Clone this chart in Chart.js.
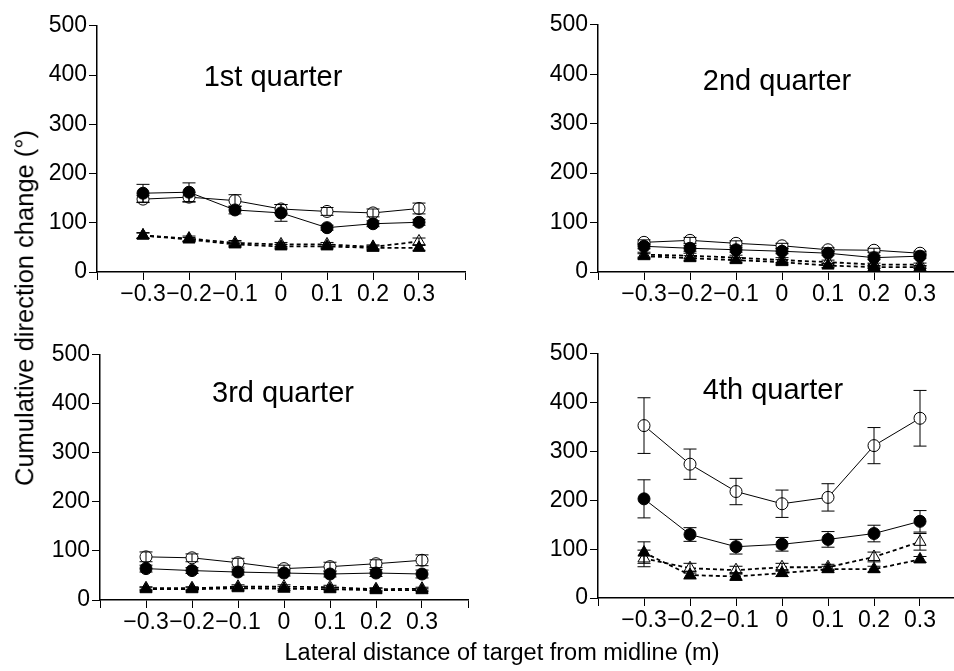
<!DOCTYPE html>
<html>
<head>
<meta charset="utf-8">
<script src="https://cdn.jsdelivr.net/npm/chart.js@4.4.1/dist/chart.umd.min.js"></script>
<style>
  body { margin: 0; width: 954px; height: 671px; background: #fff; overflow: hidden; position: relative; font-family: "Liberation Sans", Arial, sans-serif; }
  canvas { position: absolute; }
  .lbl { position: absolute; color: #000; white-space: nowrap; transform: translate(-50%, -50%); line-height: 1; }
  .title { font-size: 29px; }
  .axis { font-size: 23.5px; }
</style>
</head>
<body>
<canvas id="q1" width="440" height="302" style="left:37px;top:10px"></canvas>
<canvas id="q2" width="440" height="303" style="left:538px;top:9px"></canvas>
<canvas id="q3" width="440" height="301" style="left:40px;top:339px"></canvas>
<canvas id="q4" width="440" height="300" style="left:538px;top:338px"></canvas>

<div class="lbl title" style="left:273px;top:76px">1st quarter</div>
<div class="lbl title" style="left:777px;top:80px">2nd quarter</div>
<div class="lbl title" style="left:283px;top:392px">3rd quarter</div>
<div class="lbl title" style="left:773px;top:389px">4th quarter</div>
<div class="lbl axis" style="left:25px;top:308px;font-size:25.5px;transform:translate(-50%,-50%) rotate(-90deg)">Cumulative direction change (°)</div>
<div class="lbl axis" style="left:502px;top:653px">Lateral distance of target from midline (m)</div>

<script>
// ---------- Data ----------
const xVals = [-0.3, -0.2, -0.1, 0, 0.1, 0.2, 0.3];
const xTicks = [-0.4, -0.3, -0.2, -0.1, 0, 0.1, 0.2, 0.3, 0.4];
const yTicks = [0, 100, 200, 300, 400, 500];

// 1st quarter
const q1OpenCircle = [148, 152, 145, 128, 123, 120, 129];
const q1OpenCircleErr = [7, 10, 12, 9, 8, 8, 11];
const q1FilledCircle = [160, 162, 126, 120, 90, 98, 101];
const q1FilledCircleErr = [18, 19, 8, 17, 5, 6, 6];
const q1OpenTri = [74, 68, 59, 56, 56, 51, 62];
const q1OpenTriErr = [6, 5, 5, 4, 4, 4, 7];
const q1FilledTri = [74, 66, 56, 52, 52, 49, 49];
const q1FilledTriErr = [5, 4, 5, 4, 4, 4, 5];

// 2nd quarter
const q2OpenCircle = [60, 64, 58, 53, 45, 44, 38];
const q2OpenCircleErr = [5, 6, 5, 5, 4, 4, 4];
const q2FilledCircle = [52, 48, 45, 42, 38, 29, 32];
const q2FilledCircleErr = [5, 6, 5, 5, 4, 4, 4];
const q2OpenTri = [35, 33, 29, 24, 20, 15, 15];
const q2OpenTriErr = [5, 5, 5, 5, 4, 3, 3];
const q2FilledTri = [32, 28, 24, 20, 13, 10, 10];
const q2FilledTriErr = [5, 5, 5, 5, 4, 3, 3];

// 3rd quarter
const q3OpenCircle = [88, 86, 76, 64, 68, 74, 81];
const q3OpenCircleErr = [10, 8, 9, 7, 9, 8, 11];
const q3FilledCircle = [64, 60, 57, 55, 53, 55, 53];
const q3FilledCircleErr = [7, 6, 6, 6, 6, 7, 8];
const q3OpenTri = [24, 24, 27, 27, 26, 22, 23];
const q3OpenTriErr = [3, 3, 4, 4, 4, 3, 3];
const q3FilledTri = [22, 22, 24, 23, 22, 20, 20];
const q3FilledTriErr = [3, 3, 4, 4, 4, 3, 3];

// 4th quarter
const q4OpenCircle = [353, 274, 218, 193, 206, 312, 368];
const q4OpenCircleErr = [57, 31, 27, 28, 28, 37, 57];
const q4FilledCircle = [203, 130, 105, 110, 120, 132, 157];
const q4FilledCircleErr = [39, 14, 15, 14, 16, 17, 22];
const q4OpenTri = [81, 61, 57, 63, 63, 84, 115];
const q4OpenTriErr = [17, 10, 8, 8, 6, 10, 17];
const q4FilledTri = [93, 47, 44, 51, 59, 59, 79];
const q4FilledTriErr = [22, 8, 8, 7, 6, 6, 6];

// ---------- Error bar plugin ----------
const errorBars = {
  id: "errorBars",
  afterDatasetsDraw(chart) {
    const { ctx, scales } = chart;
    ctx.save();
    ctx.strokeStyle = "#000";
    ctx.lineWidth = 1;
    chart.data.datasets.forEach((ds) => {
      if (!ds.err) return;
      ds.data.forEach((p, i) => {
        const x = scales.x.getPixelForValue(p.x);
        const yTop = scales.y.getPixelForValue(p.y + ds.err[i]);
        const yBot = scales.y.getPixelForValue(p.y - ds.err[i]);
        ctx.beginPath();
        ctx.moveTo(x, yTop); ctx.lineTo(x, yBot);
        ctx.moveTo(x - 6.5, yTop); ctx.lineTo(x + 6.5, yTop);
        ctx.moveTo(x - 6.5, yBot); ctx.lineTo(x + 6.5, yBot);
        ctx.stroke();
      });
    });
    ctx.restore();
  },
};

const tickFont = { family: "'Liberation Sans', Arial, sans-serif", size: 23 };

function fmt(v) {
  if (Math.abs(v) > 0.35) return "";
  if (v === 0) return "0";
  return (v < 0 ? "\u2212" : "") + Math.abs(v).toFixed(1);
}

function pts(vals) {
  return xVals.map((x, i) => ({ x, y: vals[i] }));
}

function makeChart(id, oc, ocErr, fc, fcErr, ot, otErr, ft, ftErr) {
  const line = { borderColor: "#000", pointBorderColor: "#000", pointBorderWidth: 1 };
  new Chart(document.getElementById(id), {
    type: "line",
    data: {
      datasets: [
        { ...line, data: pts(fc), err: fcErr, borderWidth: 1, pointStyle: "circle", pointRadius: 6, pointBackgroundColor: "#000" },
        { ...line, data: pts(oc), err: ocErr, borderWidth: 1, pointStyle: "circle", pointRadius: 6, pointBackgroundColor: "#fff" },
        { ...line, data: pts(ft), err: ftErr, borderWidth: 1.8, borderDash: [4, 3], pointStyle: "triangle", pointRadius: 7, pointBackgroundColor: "#000" },
        { ...line, data: pts(ot), err: otErr, borderWidth: 1.8, borderDash: [4, 3], pointStyle: "triangle", pointRadius: 7, pointBackgroundColor: "#fff" },
      ],
    },
    options: {
      responsive: false,
      animation: false,
      devicePixelRatio: 1,
      layout: { padding: { top: 14, right: 12, bottom: 0, left: 0 } },
      plugins: { legend: { display: false }, tooltip: { enabled: false } },
      scales: {
        x: {
          type: "linear",
          min: -0.4,
          max: 0.4,
          afterBuildTicks: (s) => { s.ticks = xTicks.map((v) => ({ value: v })); },
          afterFit: (s) => { s.height = 40; },
          ticks: { color: "#000", font: tickFont, padding: 1, autoSkip: false, maxRotation: 0, minRotation: 0, callback: (v) => fmt(v) },
          grid: { drawOnChartArea: false, drawTicks: true, tickLength: 8, color: "#000", lineWidth: 1 },
          border: { display: true, color: "#000", width: 1.5 },
        },
        y: {
          min: 0,
          max: 500,
          afterBuildTicks: (s) => { s.ticks = yTicks.map((v) => ({ value: v })); },
          afterFit: (s) => { s.width = 60; },
          ticks: { color: "#000", font: tickFont, padding: 2 },
          grid: { drawOnChartArea: false, drawTicks: true, tickLength: 8, color: "#000", lineWidth: 1 },
          border: { display: true, color: "#000", width: 1.5 },
        },
      },
    },
    plugins: [errorBars],
  });
}

makeChart("q1", q1OpenCircle, q1OpenCircleErr, q1FilledCircle, q1FilledCircleErr, q1OpenTri, q1OpenTriErr, q1FilledTri, q1FilledTriErr);
makeChart("q2", q2OpenCircle, q2OpenCircleErr, q2FilledCircle, q2FilledCircleErr, q2OpenTri, q2OpenTriErr, q2FilledTri, q2FilledTriErr);
makeChart("q3", q3OpenCircle, q3OpenCircleErr, q3FilledCircle, q3FilledCircleErr, q3OpenTri, q3OpenTriErr, q3FilledTri, q3FilledTriErr);
makeChart("q4", q4OpenCircle, q4OpenCircleErr, q4FilledCircle, q4FilledCircleErr, q4OpenTri, q4OpenTriErr, q4FilledTri, q4FilledTriErr);
</script>
</body>
</html>
